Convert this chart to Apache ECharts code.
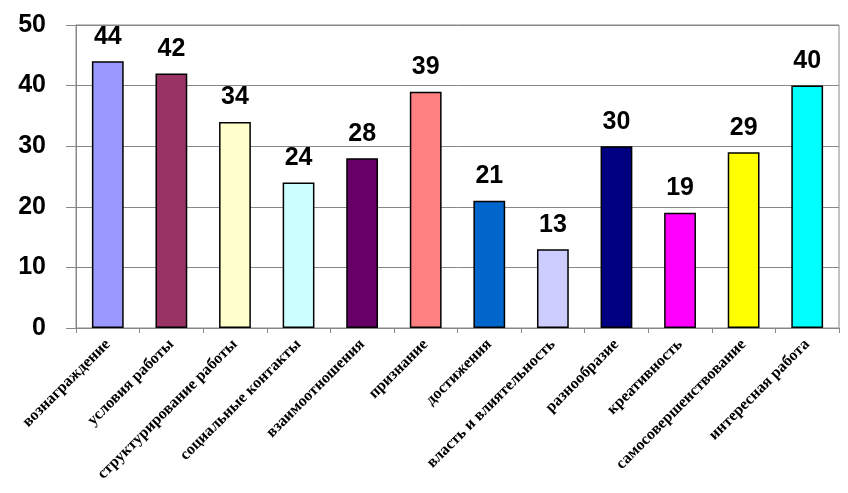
<!DOCTYPE html>
<html>
<head>
<meta charset="utf-8">
<script src="https://cdn.jsdelivr.net/npm/echarts@6/dist/echarts.min.js"></script>
<style>html,body{margin:0;padding:0;background:#fff;}#c{width:848px;height:493px;}</style>
</head>
<body>
<div id="c"></div>
<script>
const categories = ['вознаграждение','условия работы','структурирование работы','социальные контакты','взаимоотношения','признание','достижения','власть и влиятельность','разнообразие','креативность','самосовершенствование','интересная работа'];
const values = [44, 42, 34, 24, 28, 39, 21, 13, 30, 19, 29, 40];
const barColors = ['#9999FF','#993366','#FFFFCC','#CCFFFF','#660066','#FF8080','#0066CC','#CCCCFF','#000080','#FF00FF','#FFFF00','#00FFFF'];
const yTicks = [0, 10, 20, 30, 40, 50];

const chart = echarts.init(document.getElementById('c'), null, {renderer: 'canvas'});
chart.setOption({
  animation: false,
  backgroundColor: '#fff',
  grid: {left: 76, right: 9, top: 25, bottom: 165, show: true, borderColor: '#888', borderWidth: 1, backgroundColor: 'transparent'},
  xAxis: {
    type: 'category',
    data: categories,
    axisLine: {lineStyle: {color: '#888', width: 1}},
    axisTick: {show: true, length: 5, lineStyle: {color: '#888'}},
    axisLabel: {
      interval: 0, rotate: 45, margin: 14,
      fontFamily: 'Liberation Serif', fontWeight: 'bold', fontSize: 16, color: '#000'
    }
  },
  yAxis: {
    type: 'value',
    min: yTicks[0], max: yTicks[yTicks.length - 1], interval: 10,
    axisLine: {show: true, lineStyle: {color: '#888', width: 1}},
    axisTick: {show: true, length: 10, lineStyle: {color: '#888'}},
    splitLine: {lineStyle: {color: '#888', width: 1}},
    axisLabel: {margin: 30, fontFamily: 'Liberation Sans', fontWeight: 'bold', fontSize: 25, color: '#000'}
  },
  series: [{
    type: 'bar',
    barWidth: '50%',
    data: values.map((v, i) => ({value: v, itemStyle: {color: barColors[i]}})),
    itemStyle: {borderColor: '#000', borderWidth: 1.5},
    label: {
      show: true, position: 'top', distance: 12,
      fontFamily: 'Liberation Sans', fontWeight: 'bold', fontSize: 25, color: '#000'
    }
  }]
});
</script>
</body>
</html>
